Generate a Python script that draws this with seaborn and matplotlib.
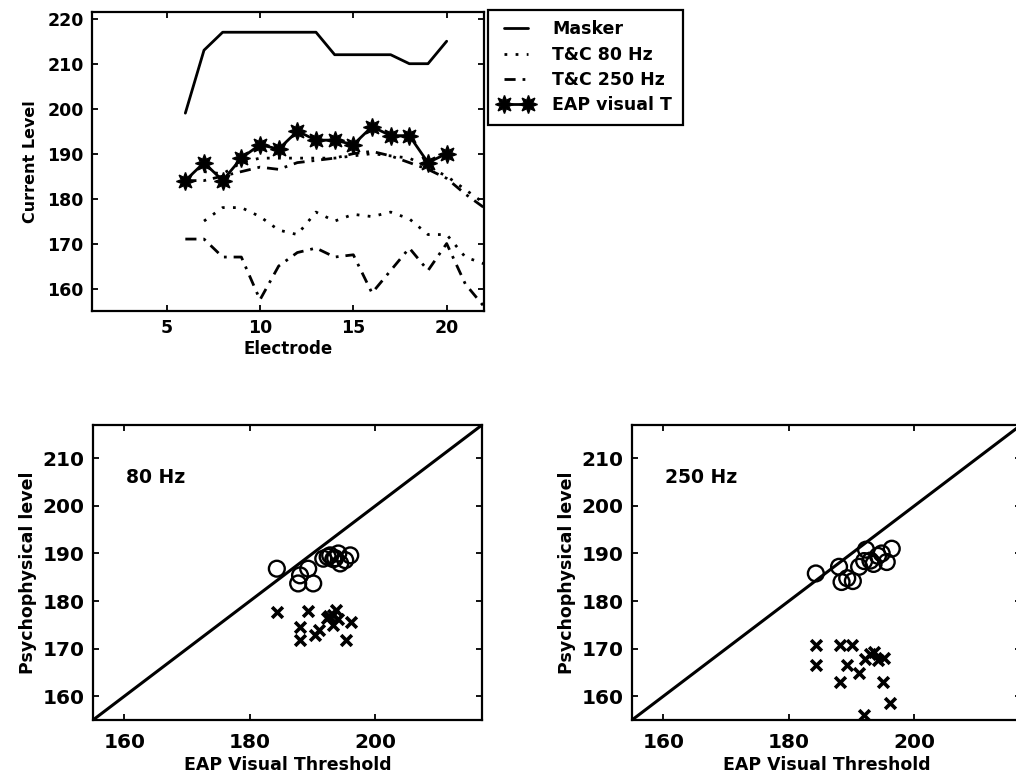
import matplotlib
matplotlib.use("Agg")
import matplotlib.pyplot as plt
import seaborn as sns
import numpy as np
import pandas as pd

# ---------------- data: top panel ----------------
electrode = [6, 7, 8, 9, 10, 11, 12, 13, 14, 15, 16, 17, 18, 19, 20]
masker = [199, 213, 217, 217, 217, 217, 217, 217, 212, 212, 212, 212, 210, 210, 215]
eap_visual_t = [184, 188, 184, 189, 192, 191, 195, 193, 193, 192, 196, 194, 194, 188, 190]

tc80_electrode = [7, 8, 9, 10, 11, 12, 13, 14, 15, 16, 17, 18, 19, 20, 21, 22]
tc80_c = [186, 185.5, 188, 189, 189, 189, 189, 189, 189.5, 190, 189.5, 189, 187, 185, 182, 179]
tc80_t = [175, 178, 178, 176, 173, 172, 177, 175, 176.5, 176, 177, 175.5, 172, 172, 167, 165.5]

tc250_electrode = [6, 7, 8, 9, 10, 11, 12, 13, 14, 15, 16, 17, 18, 19, 20, 21, 22]
tc250_c = [184, 184, 185, 186, 187, 186.5, 188, 188.5, 189, 190, 190.5, 189.5, 188, 186.5, 184.5, 181, 178]
tc250_t = [171, 171, 167, 167, 157.5, 165, 168, 169, 167, 167.5, 159, 164, 169, 164, 170, 161, 156]

# ---------------- data: bottom panels ----------------
c80_eap = [184.3, 188.0, 187.7, 189.3, 190.1, 191.7, 192.4, 192.8, 193.3, 194.1, 194.4, 195.2, 196.0, 193.6]
c80_level = [186.8, 185.4, 183.7, 186.8, 183.7, 188.9, 189.3, 189.6, 188.8, 190.0, 187.9, 188.6, 189.6, 189.0]
t80_eap = [184.4, 188.0, 188.0, 189.3, 190.4, 191.1, 192.3, 192.6, 193.2, 193.3, 193.8, 194.1, 195.4, 196.2]
t80_level = [177.7, 174.6, 171.8, 177.9, 172.8, 173.9, 176.4, 176.9, 177.0, 174.9, 178.1, 176.3, 171.8, 175.6]

c250_eap = [184.3, 188.0, 188.4, 189.3, 190.2, 191.2, 192.3, 193.0, 193.5, 194.2, 194.8, 195.6, 196.4, 192.0]
c250_level = [185.8, 187.2, 184.0, 184.8, 184.2, 187.2, 190.8, 188.5, 187.8, 189.5, 190.0, 188.2, 191.0, 188.4]
t250_eap = [184.3, 184.3, 188.2, 190.1, 189.3, 188.2, 191.2, 192.2, 193.0, 193.6, 194.2, 195.2, 195.0, 196.2, 192.0]
t250_level = [170.7, 166.5, 170.7, 170.7, 166.5, 163.0, 164.8, 167.9, 168.8, 169.2, 167.6, 168.0, 163.0, 158.5, 156.0]

top_xticks = [5, 10, 15, 20]
top_yticks = [160, 170, 180, 190, 200, 210, 220]
bot_xticks = [160, 180, 200]
bot_yticks = [160, 170, 180, 190, 200, 210]
bot_lim = [155, 217]

# ---------------- style ----------------
sns.set_style("white")
plt.rcParams["font.family"] = ["DejaVu Sans"]
plt.rcParams["font.weight"] = "bold"
plt.rcParams["axes.labelweight"] = "bold"
for k in ["text.color", "axes.labelcolor", "xtick.color", "ytick.color", "axes.edgecolor"]:
    plt.rcParams[k] = "black"

W, H = 1016, 778
fig = plt.figure(figsize=(W / 100, H / 100), dpi=100)


def rect(l, t, r, b):
    return [l / W, 1 - b / H, (r - l) / W, (b - t) / H]


ax_top = fig.add_axes(rect(92, 12, 484, 311))
ax_bl = fig.add_axes(rect(93, 425, 482, 720))
ax_br = fig.add_axes(rect(632, 425, 1021, 720))


def style(ax, fs, xpad=6, ypad=6):
    ax.tick_params(direction="in", top=True, right=True, bottom=True, left=True,
                   length=4, width=1.3, labelsize=fs)
    ax.tick_params(axis="x", pad=xpad)
    ax.tick_params(axis="y", pad=ypad)
    for s in ax.spines.values():
        s.set_visible(True)
        s.set_linewidth(1.6)
        s.set_color("black")
    for lab in ax.get_xticklabels() + ax.get_yticklabels():
        lab.set_fontweight("bold")


LW = 2.0
DOT = (0, (1, 3))
DASHDOT = (0, (4, 2.5, 1, 2.5))
STAR = (8, 1, 0)

# ---------------- top panel ----------------
sns.lineplot(x=electrode, y=masker, ax=ax_top, color="black", linewidth=LW,
             linestyle="-", label="Masker", legend=False, sort=False)
sns.lineplot(x=tc80_electrode, y=tc80_c, ax=ax_top, color="black", linewidth=LW,
             linestyle=DOT, label="T&C 80 Hz", legend=False, sort=False)
sns.lineplot(x=tc80_electrode, y=tc80_t, ax=ax_top, color="black", linewidth=LW,
             linestyle=DOT, legend=False, sort=False)
sns.lineplot(x=tc250_electrode, y=tc250_c, ax=ax_top, color="black", linewidth=LW,
             linestyle=DASHDOT, label="T&C 250 Hz", legend=False, sort=False)
sns.lineplot(x=tc250_electrode, y=tc250_t, ax=ax_top, color="black", linewidth=LW,
             linestyle=DASHDOT, legend=False, sort=False)
sns.lineplot(x=electrode, y=eap_visual_t, ax=ax_top, color="black", linewidth=LW,
             linestyle="-", marker=STAR, markersize=13, markerfacecolor="black",
             markeredgecolor="black", markeredgewidth=1.0,
             label="EAP visual T", legend=False, sort=False)

ax_top.set_xlim(1, 22)
ax_top.set_ylim(155, 221.5)
ax_top.set_xticks(top_xticks)
ax_top.set_yticks(top_yticks)
ax_top.set_xlabel("Electrode", fontsize=12, labelpad=2)
ax_top.set_ylabel("Current Level", fontsize=11.5, labelpad=7)
style(ax_top, 12.5)

handles, labels = ax_top.get_legend_handles_labels()
order = ["Masker", "T&C 80 Hz", "T&C 250 Hz", "EAP visual T"]
hd = dict(zip(labels, handles))
leg = fig.legend([hd[o] for o in order], order, loc="upper left",
                 bbox_to_anchor=(488 / W, 1 - 10 / H), borderaxespad=0,
                 frameon=True, fancybox=False, edgecolor="black", numpoints=2,
                 handlelength=2.0, handletextpad=1.1, labelspacing=0.42,
                 borderpad=0.6, prop={"size": 12.5, "weight": "bold"})
leg.get_frame().set_linewidth(1.6)
leg.get_frame().set_alpha(1)

# ---------------- bottom panels ----------------
panels = [
    (ax_bl, "80 Hz", c80_eap, c80_level, t80_eap, t80_level),
    (ax_br, "250 Hz", c250_eap, c250_level, t250_eap, t250_level),
]
for ax, title, cx, cy, tx, ty in panels:
    ax.axline((bot_lim[0], bot_lim[0]), slope=1, color="black", linewidth=2.2)
    sns.scatterplot(x=cx, y=cy, ax=ax, marker="o", s=130, facecolors="none",
                    edgecolor="black", linewidth=1.7, legend=False, zorder=3)
    sns.scatterplot(x=tx, y=ty, ax=ax, marker="x", s=60, color="black",
                    linewidth=2.6, legend=False, zorder=3)
    ax.set_xlim(*bot_lim)
    ax.set_ylim(*bot_lim)
    ax.set_xticks(bot_xticks)
    ax.set_yticks(bot_yticks)
    ax.text(160.3, 206, title, fontsize=13.5, fontweight="bold", va="center", ha="left")
    ax.set_xlabel("EAP Visual Threshold", fontsize=12.5, labelpad=3)
    ax.set_ylabel("Psychophysical level", fontsize=12.5, labelpad=4)
    style(ax, 14.5, xpad=9, ypad=6)

fig.savefig("out.png", dpi=100)
